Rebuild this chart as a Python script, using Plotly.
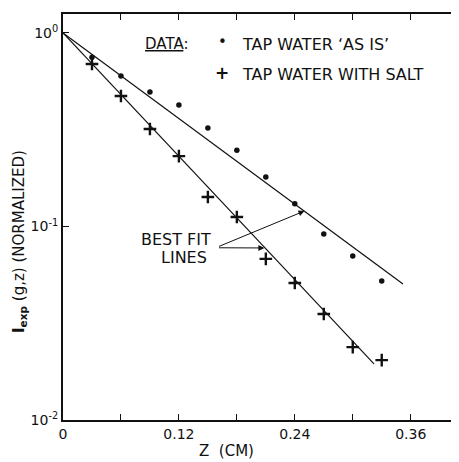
import plotly.graph_objects as go

# Data
z_asis = [0.03, 0.06, 0.09, 0.12, 0.15, 0.18, 0.21, 0.24, 0.27, 0.30, 0.33]
i_asis = [0.75, 0.60, 0.496, 0.425, 0.323, 0.248, 0.180, 0.131, 0.0915, 0.0704, 0.0523]

z_salt = [0.03, 0.06, 0.09, 0.12, 0.15, 0.18, 0.21, 0.24, 0.27, 0.30, 0.33]
i_salt = [0.691, 0.472, 0.319, 0.231, 0.142, 0.112, 0.068, 0.051, 0.0353, 0.0238, 0.0204]

fit_asis_z = [0.0, 0.352]
fit_asis_i = [1.0, 0.0504]
fit_salt_z = [0.0, 0.322]
fit_salt_i = [1.0, 0.0195]

x_tickvals = [0, 0.06, 0.12, 0.18, 0.24, 0.30, 0.36]
x_ticktext = ["0", "", "0.12", "", "0.24", "", "0.36"]
y_tickvals = [1, 0.1, 0.01]
y_ticktext = ["10<sup>0</sup>", "10<sup>-1</sup>", "10<sup>-2</sup>"]

FONT = "DejaVu Sans"
BLACK = "#111"

# page body has an 8px offset; plot area in the reference spans x 63..459, y 14..420
OFF = 8
W, H = 459 - OFF, 462 - OFF
L, T, R = 63 - OFF, 14 - OFF, 0
B = H - (420 - OFF)

fig = go.Figure()
fig.add_trace(go.Scatter(x=fit_asis_z, y=fit_asis_i, mode="lines",
                         line=dict(color=BLACK, width=1.2), showlegend=False))
fig.add_trace(go.Scatter(x=fit_salt_z, y=fit_salt_i, mode="lines",
                         line=dict(color=BLACK, width=1.2), showlegend=False))
fig.add_trace(go.Scatter(x=z_asis, y=i_asis, mode="markers",
                         marker=dict(symbol="circle", size=5.5, color=BLACK),
                         showlegend=False))
fig.add_trace(go.Scatter(x=z_salt, y=i_salt, mode="markers",
                         marker=dict(symbol="cross-thin", size=9,
                                     line=dict(color=BLACK, width=2.4)),
                         showlegend=False))

def px(xp):
    return (xp - 63) / (459 - 63)
def py(yp):
    return 1 - (yp - 14) / (420 - 14)

ann = []
def txt(x, y, s, size=15, xanchor="left"):
    ann.append(dict(x=x, y=y, xref="paper", yref="paper", text=s, showarrow=False,
                    xanchor=xanchor, yanchor="middle",
                    font=dict(family=FONT, size=size, color=BLACK)))

txt(px(143), py(44), "<u>DATA</u>:", size=15)
txt(px(222), py(42), "•", size=15, xanchor="center")
txt(px(240), py(44), "TAP WATER ‘AS IS’", size=16)
txt(px(222), py(73), "<b>+</b>", size=17, xanchor="center")
txt(px(240), py(74), "TAP WATER WITH SALT", size=16)
txt(px(176), py(239), "BEST FIT", size=16, xanchor="center")
txt(px(184), py(257), "LINES", size=16, xanchor="center")

# arrows (data coords; y axis is log, so log10 values)
ann.append(dict(x=0.250, y=-0.920, xref="x", yref="y", ax=0.160, ay=-1.106,
                axref="x", ayref="y", showarrow=True, arrowhead=2, arrowsize=1.2,
                arrowwidth=1, arrowcolor=BLACK, text=""))
ann.append(dict(x=0.2085, y=-1.111, xref="x", yref="y", ax=0.160, ay=-1.110,
                axref="x", ayref="y", showarrow=True, arrowhead=2, arrowsize=1.2,
                arrowwidth=1, arrowcolor=BLACK, text=""))

# axis titles
ann.append(dict(x=px(226), y=py(451), xref="paper", yref="paper", text="Z  (CM)",
                showarrow=False, xanchor="center", yanchor="middle",
                font=dict(family=FONT, size=15, color=BLACK)))
ann.append(dict(x=px(19), y=py(242), xref="paper", yref="paper",
                text="<b>I<sub>exp</sub></b> (g,z) (NORMALIZED)", textangle=-90,
                showarrow=False, xanchor="center", yanchor="middle",
                font=dict(family=FONT, size=15, color=BLACK)))

fig.update_layout(
    width=W, height=H,
    margin=dict(l=L, r=R, t=T, b=B, pad=0),
    paper_bgcolor="white", plot_bgcolor="white",
    annotations=ann,
    font=dict(family=FONT, color=BLACK),
    xaxis=dict(range=[0, 0.41], tickvals=x_tickvals, ticktext=x_ticktext,
               ticks="inside", ticklen=6, tickwidth=1.2, tickcolor=BLACK,
               showline=True, linecolor=BLACK, linewidth=2, mirror="ticks",
               showgrid=False, zeroline=False,
               tickfont=dict(family=FONT, size=14, color=BLACK)),
    yaxis=dict(type="log", range=[-2, 0.098], tickvals=y_tickvals, ticktext=y_ticktext,
               ticks="inside", ticklen=6, tickwidth=1.2, tickcolor=BLACK,
               showline=True, linecolor=BLACK, linewidth=2, mirror=False,
               showgrid=False, zeroline=False,
               tickfont=dict(family=FONT, size=14, color=BLACK)),
)

fig.write_html("out.html")
